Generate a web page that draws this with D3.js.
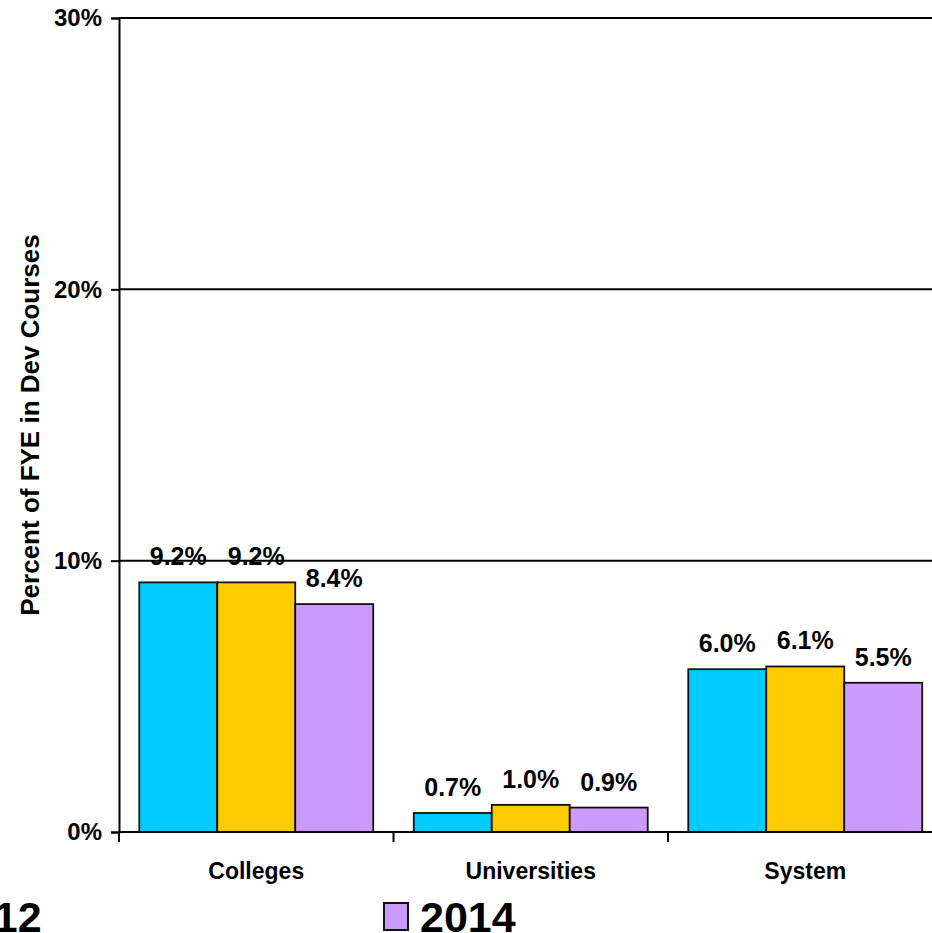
<!DOCTYPE html>
<html>
<head>
<meta charset="utf-8">
<script src="https://cdn.jsdelivr.net/npm/d3@7"></script>
<style>
  html, body { margin: 0; padding: 0; background: #fff; }
  svg { display: block; font-family: "Liberation Sans", Arial, sans-serif; font-weight: bold; }
</style>
</head>
<body>
<svg id="chart" width="932" height="933"></svg>
<script>
const categories = ["Colleges", "Universities", "System"];
const seriesNames = ["2012", "2013", "2014"];
const values2012 = [9.2, 0.7, 6.0];
const values2013 = [9.2, 1.0, 6.1];
const values2014 = [8.4, 0.9, 5.5];
const yTicks = [0, 10, 20, 30];
const colors = ["#00CCFF", "#FFCC00", "#CC99FF"];

const seriesValues = [values2012, values2013, values2014];
const svg = d3.select("#chart");

const plotLeft = 119, plotTop = 18, plotBottom = 832, plotRight = 942.5;

const y = d3.scaleLinear().domain([0, 30]).range([plotBottom, plotTop]);
const x0 = d3.scaleBand().domain(categories).range([plotLeft, plotRight]).padding(0);
const x1 = d3.scaleBand().domain(seriesNames).range([0, x0.bandwidth()]).paddingInner(0).paddingOuter(0.26);

// gridlines
svg.append("g").selectAll("line").data(yTicks.filter(d => d > 0)).join("line")
  .attr("x1", plotLeft).attr("x2", plotRight)
  .attr("y1", d => y(d)).attr("y2", d => y(d))
  .attr("stroke", "#000").attr("stroke-width", 2);

// y axis
const yAxis = d3.axisLeft(y).tickValues(yTicks).tickFormat(d => d + "%").tickSize(8).tickPadding(9);
const ya = svg.append("g").attr("transform", `translate(${plotLeft},0)`).call(yAxis);
ya.select(".domain").attr("stroke", "#000").attr("stroke-width", 2);
ya.selectAll(".tick line").attr("stroke", "#000").attr("stroke-width", 2);
ya.selectAll(".tick text").attr("font-size", 24).attr("font-weight", "bold")
  .attr("font-family", "Liberation Sans, Arial, sans-serif").attr("fill", "#000");

// bars
const groups = svg.append("g").selectAll("g").data(categories).join("g")
  .attr("transform", d => `translate(${x0(d)},0)`);

groups.selectAll("rect").data((c, i) => seriesNames.map((s, j) => ({ s, j, v: seriesValues[j][i] })))
  .join("rect")
  .attr("x", d => x1(d.s)).attr("width", x1.bandwidth())
  .attr("y", d => y(d.v)).attr("height", d => y(0) - y(d.v))
  .attr("fill", d => colors[d.j]).attr("stroke", "#111").attr("stroke-width", 1.8);

groups.selectAll("text").data((c, i) => seriesNames.map((s, j) => ({ s, j, v: seriesValues[j][i] })))
  .join("text")
  .attr("x", d => x1(d.s) + x1.bandwidth() / 2)
  .attr("y", d => y(d.v) - 17)
  .attr("text-anchor", "middle").attr("font-size", 25).attr("fill", "#000")
  .text(d => d.v.toFixed(1) + "%");

// x axis
const xa = svg.append("g").attr("transform", `translate(0,${plotBottom})`);
xa.append("line").attr("x1", plotLeft).attr("x2", plotRight).attr("y1", 0).attr("y2", 0)
  .attr("stroke", "#000").attr("stroke-width", 2);
const tickPos = categories.map(c => x0(c)).concat([x0(categories[categories.length - 1]) + x0.bandwidth()]);
xa.selectAll("line.t").data(tickPos).join("line").attr("class", "t")
  .attr("x1", d => d).attr("x2", d => d).attr("y1", 0).attr("y2", 10)
  .attr("stroke", "#000").attr("stroke-width", 2);
xa.selectAll("text").data(categories).join("text")
  .attr("x", d => x0(d) + x0.bandwidth() / 2).attr("y", 47)
  .attr("text-anchor", "middle").attr("font-size", 23).attr("fill", "#000")
  .text(d => d);

// y title
svg.append("text")
  .attr("transform", `translate(39,${(plotTop + plotBottom) / 2}) rotate(-90)`)
  .attr("text-anchor", "middle").attr("font-size", 26).attr("fill", "#000")
  .text("Percent of FYE in Dev Courses");

// legend (two columns; partly outside the visible area as in the original)
const legendPos = [{ x: -90, y: 932 }, { x: -90, y: 985 }, { x: 384, y: 932 }];
const lg = svg.append("g").selectAll("g").data(seriesNames).join("g")
  .attr("transform", (d, i) => `translate(${legendPos[i].x},${legendPos[i].y})`);
lg.append("rect").attr("x", 0).attr("y", -29).attr("width", 24).attr("height", 27)
  .attr("fill", (d, i) => colors[i]).attr("stroke", "#111").attr("stroke-width", 2);
lg.append("text").attr("x", 36).attr("y", 0).attr("font-size", 43).attr("fill", "#000").text(d => d);
</script>
</body>
</html>
